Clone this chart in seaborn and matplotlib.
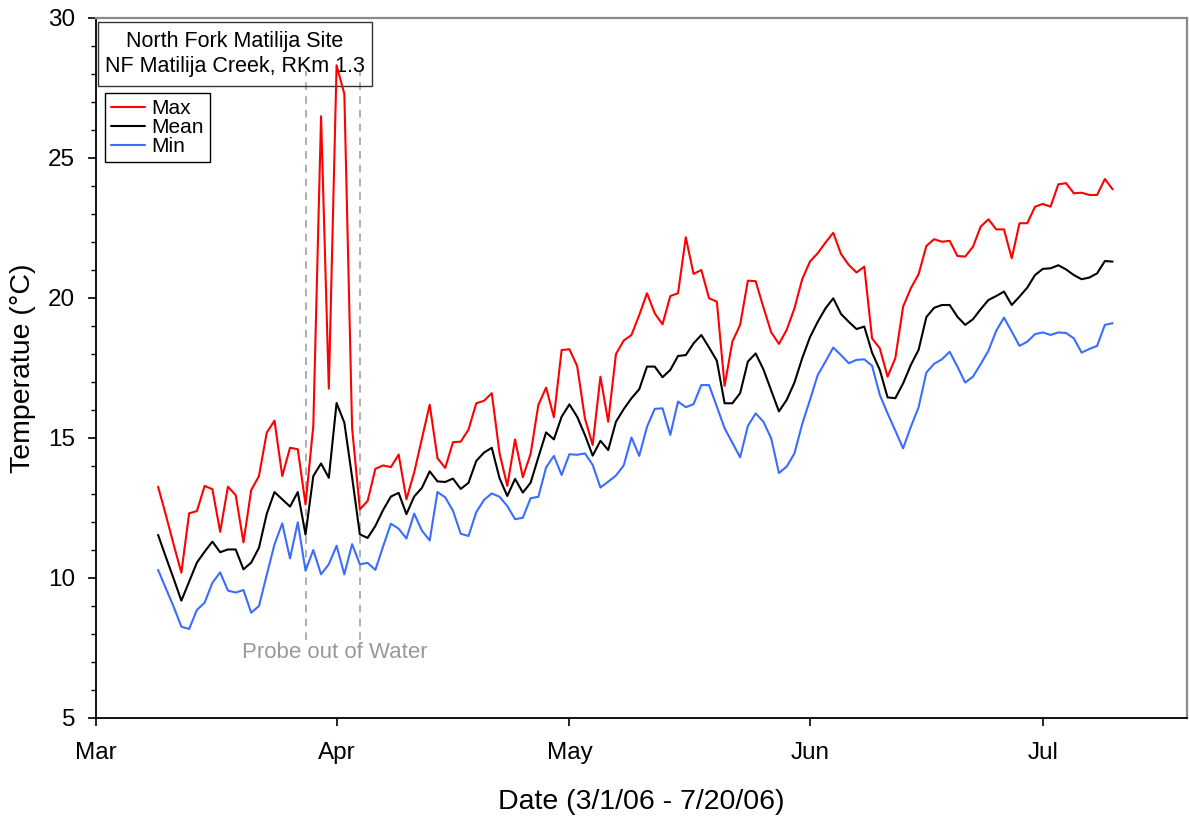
import numpy as np
import pandas as pd
import matplotlib
matplotlib.use("Agg")
import matplotlib.pyplot as plt
import matplotlib.dates as mdates
from matplotlib.ticker import MultipleLocator
from matplotlib.patches import Rectangle
import seaborn as sns

# ---------------- data ----------------
start_date = "2006-03-09"
n_days = 124

max_temp = [13.26, 12.25, 11.2, 10.19, 12.31, 12.39, 13.29, 13.17, 11.65, 13.26,
            12.96, 11.27, 13.14, 13.64, 15.19, 15.62, 13.64, 14.65, 14.60, 12.63,
            15.43, 26.49, 16.76, 28.31, 27.29, 15.36, 12.45, 12.75, 13.90, 14.02,
            13.96, 14.41, 12.81, 13.77, 14.98, 16.19, 14.28, 13.93, 14.85, 14.87,
            15.30, 16.24, 16.33, 16.60, 14.45, 13.29, 14.95, 13.60, 14.43, 16.18,
            16.80, 15.74, 18.14, 18.17, 17.57, 15.70, 14.75, 17.19, 15.58, 18.00,
            18.48, 18.68, 19.39, 20.17, 19.45, 19.06, 20.07, 20.17, 22.17, 20.86,
            21.00, 19.99, 19.87, 16.86, 18.44, 19.04, 20.62, 20.60, 19.67, 18.78,
            18.36, 18.86, 19.63, 20.67, 21.30, 21.60, 21.98, 22.33, 21.57, 21.18,
            20.91, 21.12, 18.56, 18.20, 17.19, 17.85, 19.69, 20.35, 20.85, 21.86,
            22.10, 22.01, 22.04, 21.50, 21.48, 21.83, 22.55, 22.81, 22.45, 22.45,
            21.42, 22.67, 22.67, 23.26, 23.36, 23.26, 24.06, 24.10, 23.74, 23.76,
            23.68, 23.68, 24.25, 23.88]

mean_temp = [11.54, 10.75, 9.98, 9.19, 9.87, 10.55, 10.94, 11.30, 10.92, 11.02,
             11.02, 10.31, 10.55, 11.08, 12.29, 13.07, 12.81, 12.55, 13.07, 11.55,
             13.64, 14.09, 13.58, 16.25, 15.55, 13.60, 11.56, 11.43, 11.86, 12.43,
             12.91, 13.04, 12.28, 12.91, 13.22, 13.81, 13.45, 13.43, 13.55, 13.18,
             13.40, 14.18, 14.48, 14.65, 13.56, 12.93, 13.54, 13.05, 13.40, 14.31,
             15.20, 14.95, 15.76, 16.20, 15.76, 15.11, 14.37, 14.90, 14.57, 15.58,
             16.03, 16.42, 16.74, 17.55, 17.55, 17.17, 17.43, 17.93, 17.96, 18.38,
             18.68, 18.23, 17.76, 16.24, 16.24, 16.60, 17.73, 18.02, 17.45, 16.70,
             15.95, 16.36, 16.98, 17.85, 18.60, 19.15, 19.63, 19.99, 19.43, 19.15,
             18.89, 18.98, 18.05, 17.43, 16.45, 16.42, 16.95, 17.61, 18.15, 19.32,
             19.65, 19.75, 19.75, 19.33, 19.04, 19.24, 19.60, 19.93, 20.07, 20.23,
             19.75, 20.05, 20.37, 20.82, 21.04, 21.06, 21.17, 21.02, 20.82, 20.67,
             20.73, 20.88, 21.32, 21.30]

min_temp = [10.29, 9.63, 8.98, 8.26, 8.18, 8.86, 9.12, 9.83, 10.20, 9.55,
            9.48, 9.57, 8.76, 9.00, 10.11, 11.20, 11.95, 10.70, 11.99, 10.26,
            11.00, 10.13, 10.49, 11.15, 10.13, 11.21, 10.49, 10.54, 10.29, 11.13,
            11.94, 11.76, 11.41, 12.30, 11.69, 11.34, 13.07, 12.88, 12.40, 11.58,
            11.50, 12.35, 12.79, 13.02, 12.90, 12.57, 12.10, 12.15, 12.85, 12.90,
            13.95, 14.36, 13.68, 14.42, 14.40, 14.45, 14.04, 13.23, 13.44, 13.66,
            14.02, 15.02, 14.36, 15.40, 16.04, 16.06, 15.11, 16.30, 16.10, 16.21,
            16.89, 16.89, 16.12, 15.35, 14.83, 14.31, 15.43, 15.88, 15.58, 14.99,
            13.75, 13.98, 14.45, 15.50, 16.36, 17.25, 17.73, 18.23, 17.96, 17.67,
            17.79, 17.81, 17.58, 16.54, 15.88, 15.26, 14.63, 15.40, 16.10, 17.34,
            17.65, 17.81, 18.08, 17.55, 16.98, 17.19, 17.64, 18.12, 18.83, 19.30,
            18.80, 18.29, 18.44, 18.71, 18.77, 18.68, 18.77, 18.75, 18.56, 18.05,
            18.18, 18.29, 19.04, 19.10]

series_names = ["Max", "Mean", "Min"]
series_colors = ["#FF0000", "#000000", "#3A6DFF"]
probe_dates = ["2006-03-28", "2006-04-04"]
title_lines = ["North Fork Matilija Site", "NF Matilija Creek, RKm 1.3"]
annotation = "Probe out of Water"
x_label = "Date (3/1/06 - 7/20/06)"
y_label = "Temperatue (°C)"

dates = pd.date_range(start_date, periods=n_days, freq="D")
df = pd.concat([
    pd.DataFrame({"date": dates, "value": vals, "series": name})
    for name, vals in zip(series_names, [max_temp, mean_temp, min_temp])
], ignore_index=True)

# ---------------- style ----------------
sns.set_style("ticks")
plt.rcParams["font.family"] = ["Liberation Sans", "DejaVu Sans"]
plt.rcParams["text.color"] = "black"
plt.rcParams["axes.labelcolor"] = "black"
plt.rcParams["xtick.color"] = "black"
plt.rcParams["ytick.color"] = "black"

W, H = 1189, 819
fig = plt.figure(figsize=(W / 100, H / 100), dpi=100)
ax = fig.add_axes([96 / W, (H - 718) / H, (1187 - 96) / W, 700 / H])

sns.lineplot(data=df, x="date", y="value", hue="series",
             hue_order=series_names,
             palette=dict(zip(series_names, series_colors)),
             linewidth=1.5, ax=ax, legend=True, zorder=3)

ax.set_xlim(pd.Timestamp("2006-03-01"), pd.Timestamp("2006-07-19 14:00"))
ax.set_ylim(5, 30)
ax.yaxis.set_major_locator(MultipleLocator(5))
ax.yaxis.set_minor_locator(MultipleLocator(1))
ax.xaxis.set_major_locator(mdates.MonthLocator())
ax.xaxis.set_major_formatter(mdates.DateFormatter("%b"))

ax.tick_params(axis="both", which="major", direction="out", length=6,
               width=1.2, labelsize=17.5, color="black", labelcolor="black")
ax.tick_params(axis="y", which="major", pad=9)
ax.tick_params(axis="x", which="major", pad=11)
ax.tick_params(axis="y", which="minor", direction="out", length=3.5, width=1.0,
               color="black")
ax.tick_params(axis="x", which="minor", length=0)

for s in ["left", "bottom"]:
    ax.spines[s].set_color("black")
    ax.spines[s].set_linewidth(1.3)
for s in ["top", "right"]:
    ax.spines[s].set_color("#8a8a8a")
    ax.spines[s].set_linewidth(1.6)

ax.set_xlabel(x_label, fontsize=20.5, labelpad=18, color="black")
ax.set_ylabel(y_label, fontsize=20.5, labelpad=9, color="black")

# probe-out-of-water markers
ax.vlines(pd.to_datetime(probe_dates), 7.8, 28.1, colors="#999999",
          linestyles=(0, (5, 4)), linewidth=1.1, zorder=1)
ax.text((335 - 96) / 1091, (718 - 653) / 700, annotation, transform=ax.transAxes,
        ha="center", va="center", fontsize=16, color="#999999")

# title box
ax.add_patch(Rectangle((2 / 1091, (718 - 86) / 700), 274 / 1091, 64.3 / 700,
                       transform=ax.transAxes, fill=False, edgecolor="#333333",
                       linewidth=1.0, zorder=1))
ax.text((235 - 96) / 1091, (718 - 54) / 700, "\n".join(title_lines),
        transform=ax.transAxes, ha="center", va="center", fontsize=15.5,
        linespacing=1.25, zorder=1.5, color="black")

# legend
handles, labels = ax.get_legend_handles_labels()
leg = ax.legend(handles, labels, loc="upper left",
                bbox_to_anchor=((105 - 96) / 1091, (718 - 92.7) / 700),
                borderaxespad=0, frameon=True, fancybox=False, framealpha=1,
                edgecolor="black", fontsize=15, handlelength=1.6,
                handletextpad=0.3, borderpad=0.3, labelspacing=0.0)
leg.get_frame().set_linewidth(1.0)
for line in leg.get_lines():
    line.set_linewidth(1.5)
for t in leg.get_texts():
    t.set_color("black")

fig.savefig("out.png", dpi=100)
